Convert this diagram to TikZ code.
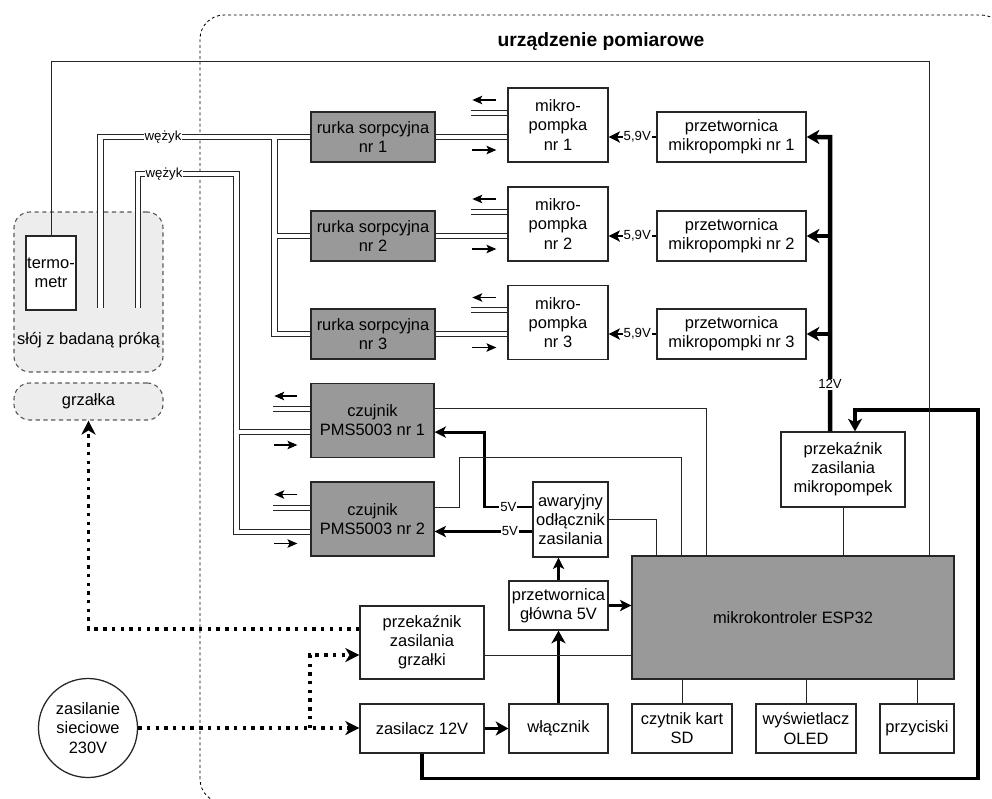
\documentclass[tikz,border=0pt]{standalone}
\usepackage{fontspec}
\setmainfont{Liberation Sans}
\usetikzlibrary{arrows.meta}

\tikzset{
  blok/.style={draw=black!85, line width=0.9pt, fill=white, align=center, inner sep=0.8pt,
    font=\fontsize{11.7}{13.6}\selectfont},
  blokc/.style={blok, fill=black!40},
  naczynie/.style={draw=black!65, line width=0.8pt, dash pattern=on 3pt off 2.5pt,
    fill=black!7, rounded corners=0.4cm},
  ramka/.style={draw=black, line width=0.6pt, dash pattern=on 2pt off 2pt, rounded corners=0.6cm},
  etyk/.style={fill=white, inner sep=0.6pt, font=\fontsize{9.4}{10}\selectfont},
  przewod/.style={draw=black!85, line width=0.7pt},
  gruba/.style={line width=2.6pt, -{Stealth[length=9pt, width=10pt, inset=2.5pt]}},
  szyna/.style={line width=3.2pt, -{Stealth[length=9pt, width=10pt, inset=2.5pt]}},
  srednia/.style={line width=2pt, -{Stealth[length=8pt, width=8pt, inset=2pt]}},
  kropki/.style={line width=2.4pt, dash pattern=on 2.4pt off 3.8pt,
    -{Stealth[length=10pt, width=10pt, inset=3pt]}},
  strz/.style={line width=0.8pt, -{Stealth[length=7pt, width=6pt, inset=1.5pt]}},
}

\begin{document}
\begin{tikzpicture}[x=0.025cm, y=-0.025cm]
\useasboundingbox (0,0) rectangle (992,798);

% obudowa
\draw[ramka] (200,803) rectangle (1005,15);
\node[font=\fontsize{13.7}{15}\selectfont\bfseries] (tytul) at (601,42) {urządzenie pomiarowe};

% sloj i grzalka
\node[naczynie, minimum width=3.725cm, minimum height=4cm] (sloj) at (88.5,292) {};
\node[font=\fontsize{11.7}{13.6}\selectfont] (slojtxt) at (88.5,340) {słój z badaną próką};
\node[naczynie, minimum width=3.725cm, minimum height=0.925cm, font=\fontsize{11.7}{13.6}\selectfont] (grzalka) at (88.5,401.5) {grzałka};
\node[blok, minimum width=1.25cm, minimum height=1.85cm] (termo) at (51,273) {termo-\\metr};

% tor gazowy
\foreach \i/\y in {1/137,2/236,3/334} {
  \node[blokc, minimum width=3.1cm, minimum height=1.25cm] (rurka\i) at (373,\y) {rurka sorpcyjna\\nr \i};
  \node[blok, minimum width=3.725cm, minimum height=1.25cm] (przet\i) at (731.5,\y) {przetwornica\\mikropompki nr \i};
}
\foreach \i/\y in {1/125,2/224,3/322.5}
  \node[blok, minimum width=2.5cm, minimum height=1.85cm] (pompa\i) at (558,\y) {mikro-\\pompka\\nr \i};
\node[blokc, minimum width=3.075cm, minimum height=1.85cm] (czuj1) at (372.5,420.5) {czujnik\\PMS5003 nr 1};
\node[blokc, minimum width=3.075cm, minimum height=1.85cm] (czuj2) at (372.5,519) {czujnik\\PMS5003 nr 2};

% elektronika
\node[blok, minimum width=1.875cm, minimum height=1.875cm] (awar) at (570.5,519.5) {awaryjny\\odłącznik\\zasilania};
\node[blok, minimum width=2.475cm, minimum height=1.225cm] (przetg) at (558.5,605.5) {przetwornica\\główna 5V};
\node[blok, minimum width=2.475cm, minimum height=1.225cm] (wlacz) at (558.5,728.5) {włącznik};
\node[blok, minimum width=3.1cm, minimum height=1.225cm] (zasil) at (422,728.5) {zasilacz 12V};
\node[blok, minimum width=3.1cm, minimum height=1.825cm] (przekg) at (422,642.5) {przekaźnik\\zasilania\\grzałki};
\node[blokc, minimum width=8.05cm, minimum height=3.075cm] (esp) at (793,617.5) {mikrokontroler ESP32};
\node[blok, minimum width=2.5cm, minimum height=1.225cm] (sd) at (682,728.5) {czytnik kart\\SD};
\node[blok, minimum width=2.5cm, minimum height=1.225cm] (oled) at (806,728.5) {wyświetlacz\\OLED};
\node[blok, minimum width=1.85cm, minimum height=1.225cm] (przyc) at (917,728.5) {przyciski};
\node[blok, minimum width=3.1cm, minimum height=1.875cm] (przekp) at (843,469.5) {przekaźnik\\zasilania\\mikropompek};
\node[blok, circle, minimum size=2.475cm] (siec) at (88,728) {zasilanie\\sieciowe\\230V};

% weze
\coordinate (r1d) at (100.5,308);
\coordinate (r2d) at (138,308);
\coordinate (w1) at (274.5,137);
\coordinate (w2) at (236.5,174);
\coordinate (c1) at ([yshift=-0.29cm]czuj1.west);
\coordinate (c2) at ([yshift=-0.32cm]czuj2.west);
\foreach \szer/\kol in {4.3pt/black!85, 2.9pt/white} {
  \draw[line width=\szer, draw=\kol] (r1d) |- (rurka1.west);
  \draw[line width=\szer, draw=\kol] (w1) |- (rurka3.west);
  \draw[line width=\szer, draw=\kol] (w1 |- rurka2.west) -- (rurka2.west);
  \draw[line width=\szer, draw=\kol] (r2d) |- (w2) |- (c2);
  \draw[line width=\szer, draw=\kol] (w2 |- c1) -- (c1);
  \foreach \i in {1,2,3} {
    \draw[line width=\szer, draw=\kol] (rurka\i.east) -- (rurka\i.east -| pompa\i.west);
    \draw[line width=\szer, draw=\kol] ([yshift=0.31cm]pompa\i.west) -- ++(-36,0);
  }
  \foreach \i in {1,2}
    \draw[line width=\szer, draw=\kol] ([yshift=0.28cm]czuj\i.west) -- ++(-37,0);
}
\node[etyk] (wez1) at (163,137) {wężyk};
\node[etyk] (wez2) at (164,174) {wężyk};

% kierunek przeplywu
\foreach \i in {1,2,3} {
  \draw[strz] ([shift={(-11,-25)}]pompa\i.west) -- ++(-24,0);
  \draw[strz] ([shift={(-35,25)}]pompa\i.west) -- ++(24,0);
}
\foreach \i in {1,2} {
  \draw[strz] ([shift={(-13,-24.5)}]czuj\i.west) -- ++(-23,0);
  \draw[strz] ([shift={(-36,24.5)}]czuj\i.west) -- ++(23,0);
}

% zasilanie pomp
\foreach \i in {1,2,3}
  \draw[srednia] (przet\i.west) -- node[etyk, pos=0.4] {5,9V} (przet\i.west -| pompa\i.east);
\coordinate (szyna) at (830,137);
\draw[szyna] ([xshift=-0.325cm]przekp.north) -- node[etyk, pos=0.16] {12V} (szyna) -- (przet1.east);
\draw[szyna] (szyna |- przet2.east) -- (przet2.east);
\draw[szyna] (szyna |- przet3.east) -- (przet3.east);
\draw[gruba] (zasil.south) -- ++(0,25) -| (978,410) -| ([xshift=0.3cm]przekp.north);

% zasilanie 5V
\draw[gruba] (zasil) -- (wlacz);
\draw[gruba] (wlacz) -- (przetg);
\draw[srednia] (przetg.east) -- (przetg.east -| esp.west);
\draw[srednia] (przetg.north) -- (przetg.north |- awar.south);
\coordinate (a1) at ([yshift=0.3125cm]awar.west);
\coordinate (a2) at ([yshift=-0.3cm]awar.west);
\draw[srednia] (a1) -- node[etyk] {5V} ++(-48,0) |- ([yshift=-0.29cm]czuj1.east);
\draw[srednia] (a2) -- node[etyk, pos=0.23] {5V} (a2 -| czuj2.east);

% sygnaly
\draw[przewod] (termo.north) -- ++(0,-174) -| ([xshift=7.45cm]esp.north west);
\draw[przewod] ([yshift=0.3cm]czuj1.east) -| ([xshift=1.875cm]esp.north west);
\draw[przewod] ([yshift=0.3cm]czuj2.east) -- ++(25,0) -- ++(0,-50) -| ([xshift=1.25cm]esp.north west);
\draw[przewod] (awar.east) -| ([xshift=0.625cm]esp.north west);
\draw[przewod] (przekp) -- (przekp |- esp.north);
\coordinate (gw) at ([yshift=-0.3125cm]przekg.east);
\draw[przewod] (gw) -- (gw -| esp.west);
\foreach \n in {sd,oled,przyc}
  \draw[przewod] (\n) -- (\n |- esp.south);

% siec 230V
\coordinate (rozg) at (310,728);
\draw[kropki] (siec.east) -- (siec.east -| zasil.west);
\draw[kropki] (rozg) |- ([yshift=-0.3125cm]przekg.west);
\draw[kropki] ([yshift=0.3375cm]przekg.west) -| (grzalka.south);
\end{tikzpicture}
\end{document}
